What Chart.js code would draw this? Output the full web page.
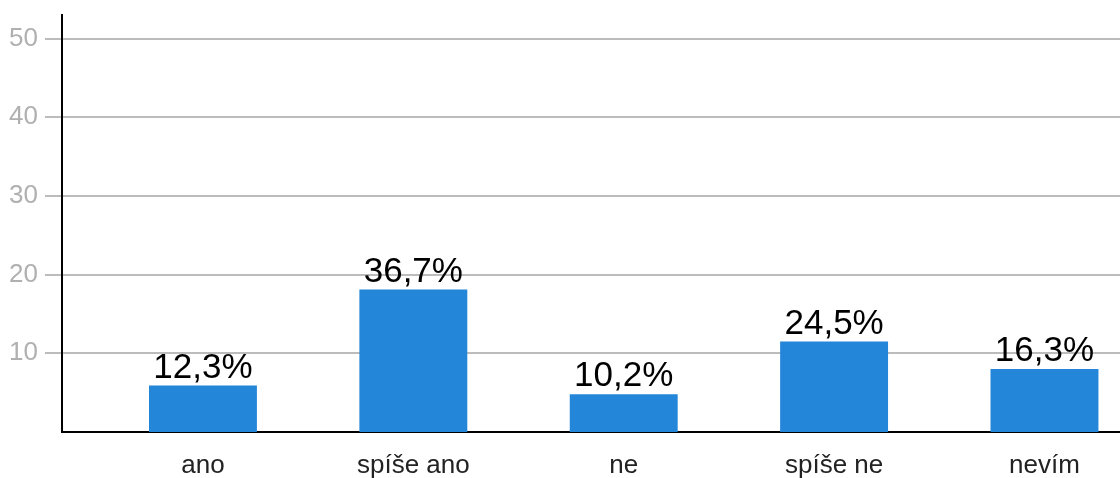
<!DOCTYPE html>
<html>
<head>
<meta charset="utf-8">
<script src="https://cdn.jsdelivr.net/npm/chart.js@4"></script>
<style>
  html, body { margin: 0; padding: 0; background: #fff; }
  canvas { display: block; }
</style>
</head>
<body>
<canvas id="myChart" width="1120" height="478"></canvas>
<script>
const categories = ['ano', 'spíše ano', 'ne', 'spíše ne', 'nevím'];
const counts = [5.9, 18.1, 4.8, 11.5, 8];
const percentLabels = ['12,3%', '36,7%', '10,2%', '24,5%', '16,3%'];
const yTicks = [10, 20, 30, 40, 50];

const FONT = '"Liberation Sans", Arial, sans-serif';

// percentages above the bars
const valueLabels = {
    id: 'valueLabels',
    afterDatasetsDraw(chart) {
        const ctx = chart.ctx;
        const meta = chart.getDatasetMeta(0);
        ctx.save();
        ctx.font = '35px ' + FONT;
        ctx.fillStyle = '#000';
        ctx.textAlign = 'center';
        ctx.textBaseline = 'alphabetic';
        meta.data.forEach((bar, i) => {
            ctx.fillText(percentLabels[i], bar.x, bar.y - 8);
        });
        ctx.restore();
    }
};

const ctx = document.getElementById('myChart').getContext('2d');
const myChart = new Chart(ctx, {
    type: 'bar',
    data: {
        datasets: [{
            data: categories.map((c, i) => ({ x: i, y: counts[i] })),
            backgroundColor: '#2486d9',
            borderWidth: 0,
            barPercentage: 0.513,
            categoryPercentage: 1
        }]
    },
    options: {
        responsive: false,
        animation: false,
        layout: { padding: { top: 15, left: 0, right: 0, bottom: 0 } },
        plugins: {
            legend: { display: false },
            tooltip: { enabled: false }
        },
        scales: {
            x: {
                type: 'linear',
                offset: false,
                min: -0.67,
                max: 4.359,
                afterBuildTicks: axis => { axis.ticks = categories.map((c, i) => ({ value: i })); },
                afterFit: scale => {
                    scale.height = 46;
                    scale.paddingLeft = 0;
                    scale.paddingRight = 0;
                },
                grid: { display: false, offset: false },
                border: { display: true, color: '#000', width: 2 },
                ticks: {
                    autoSkip: false,
                    maxRotation: 0,
                    padding: 10,
                    color: '#222',
                    font: { family: FONT, size: 26 },
                    callback: v => categories[v]
                }
            },
            y: {
                min: 0,
                max: 53,
                afterBuildTicks: axis => { axis.ticks = yTicks.map(v => ({ value: v })); },
                afterFit: scale => {
                    scale.width = 62;
                    scale.paddingTop = 0;
                    scale.paddingBottom = 0;
                },
                grid: { color: '#bcbcbc', lineWidth: 2, tickLength: 17 },
                border: { display: true, color: '#000', width: 2 },
                ticks: {
                    padding: 7,
                    color: '#b0b0b0',
                    font: { family: FONT, size: 26 }
                }
            }
        }
    },
    plugins: [valueLabels]
});
</script>
</body>
</html>
